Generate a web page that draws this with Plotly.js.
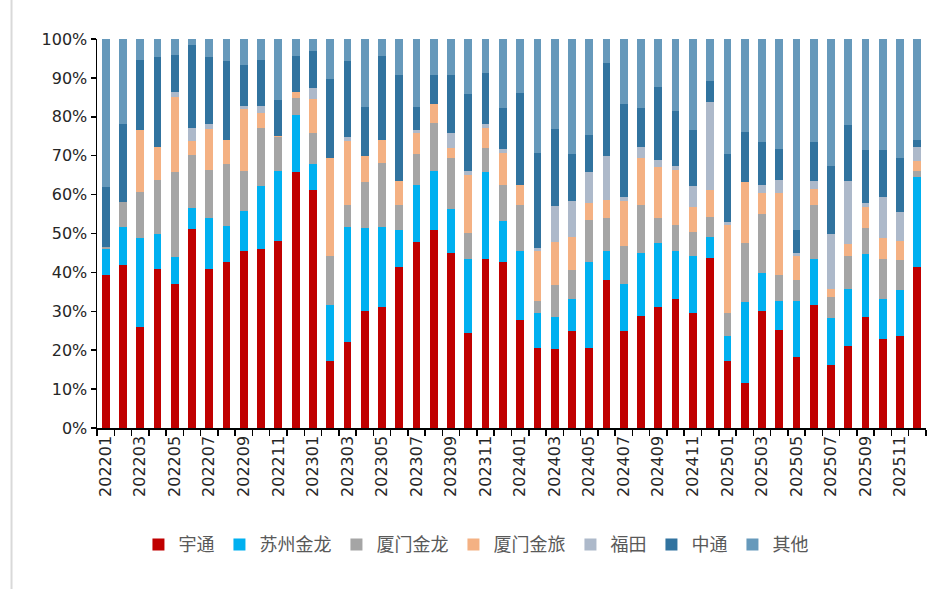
<!DOCTYPE html>
<html>
<head>
<meta charset="utf-8">
<script src="https://cdn.plot.ly/plotly-3.0.1.min.js"></script>
<style>html,body{margin:0;padding:0;background:#fff;}#chart{width:948px;height:589px;}</style>
</head>
<body>
<div id="chart"></div>
<script>
const months = ['202201','202202','202203','202204','202205','202206','202207','202208','202209','202210','202211','202212',
'202301','202302','202303','202304','202305','202306','202307','202308','202309','202310','202311','202312',
'202401','202402','202403','202404','202405','202406','202407','202408','202409','202410','202411','202412',
'202501','202502','202503','202504','202505','202506','202507','202508','202509','202510','202511','202512'];
const tickLabels = ['202201','','202203','','202205','','202207','','202209','','202211','',
'202301','','202303','','202305','','202307','','202309','','202311','',
'202401','','202403','','202405','','202407','','202409','','202411','',
'202501','','202503','','202505','','202507','','202509','','202511',''];

const yutong = [39.3,41.9,25.9,40.9,37.1,51.1,40.9,42.8,45.4,46.0,48.2,65.7,61.2,17.3,22.1,30.1,31.1,41.3,47.9,50.8,45.0,24.4,43.5,42.8,27.8,20.5,20.2,25.0,20.5,38.0,25.0,28.9,31.1,33.2,29.5,43.8,17.3,11.6,30.1,25.3,18.2,31.6,16.1,21.1,28.5,22.8,23.7,41.5];
const suzhouJinlong = [6.8,9.8,23.0,8.9,6.9,5.4,13.0,9.3,10.4,16.2,17.8,14.7,6.7,14.3,29.6,21.4,20.6,9.5,14.6,15.2,11.2,19.1,22.3,10.5,17.6,9.0,8.3,8.2,22.3,7.4,12.1,16.1,16.5,12.2,14.8,5.3,6.4,20.7,9.8,7.3,14.4,11.9,12.1,14.7,16.2,10.4,11.8,22.9];
const xiamenJinlong = [0.5,6.3,11.7,14.0,21.7,13.7,12.5,15.8,10.2,15.0,8.7,4.4,8.0,12.7,5.5,11.7,16.5,6.6,8.0,12.4,13.3,6.7,6.3,9.2,12.0,3.1,8.2,7.4,10.8,8.5,9.8,12.4,6.3,6.9,6.1,5.1,5.8,15.3,15.0,6.7,5.4,13.9,5.4,8.3,6.7,10.3,7.6,1.6];
const xiamenJinlv = [0,0,16.1,8.5,19.4,3.5,10.5,6.1,15.9,3.8,0.4,1.6,8.6,25.2,16.5,6.6,5.9,6.0,5.4,4.8,2.6,14.9,5.1,8.3,5.1,13.0,11.2,8.5,4.2,4.8,11.4,12.1,13.1,14.1,6.4,7.1,22.6,15.6,5.5,21.1,6.3,4.1,2.2,3.2,5.4,5.4,5.1,2.6];
const futian = [0,0,0,0,1.3,3.4,1.2,0.2,1.0,1.9,0,0,2.8,0,1.2,0,0,0,0.6,0,3.8,0.9,0.9,0.9,0,0.6,9.2,9.2,7.9,11.1,1.0,2.8,1.9,0.9,5.4,22.5,0.8,0,2.1,3.4,0.7,1.9,14.0,16.1,1.0,10.4,7.3,3.7];
const zhongtong = [15.3,20.1,18.0,23.1,9.6,21.4,17.4,20.2,10.3,11.8,9.1,9.2,9.6,20.1,19.4,12.8,21.5,27.4,6.1,7.6,14.9,19.8,13.1,10.6,23.6,24.6,19.8,12.2,9.6,24.0,23.9,10.0,18.8,14.3,14.3,5.5,17.6,13.0,10.9,7.9,5.8,10.0,17.5,14.4,13.7,12.2,13.8,1.7];
const others = [38.1,21.9,5.3,4.6,4.0,1.5,4.5,5.7,6.8,5.3,15.8,4.4,3.1,10.4,5.7,17.4,4.4,9.2,17.4,9.2,9.2,14.2,8.8,17.7,13.9,29.2,23.1,29.5,24.7,6.2,16.8,17.7,12.3,18.4,23.5,10.7,29.5,23.8,26.6,28.3,49.2,26.6,32.7,22.2,28.5,28.5,30.7,26.0];

const seriesNames = ['宇通','苏州金龙','厦门金龙','厦门金旅','福田','中通','其他'];
const seriesValues = [yutong, suzhouJinlong, xiamenJinlong, xiamenJinlv, futian, zhongtong, others];
const seriesColors = ['#C00000','#00B0F0','#A5A5A5','#F4B183','#ADB9CA','#31739F','#6699BB'];

const traces = seriesNames.map((name, i) => ({
  type: 'bar',
  name: name,
  x: months,
  y: seriesValues[i],
  marker: {color: seriesColors[i], line: {width: 0}},
  hoverinfo: 'x+y+name'
}));

const layout = {
  width: 948, height: 589,
  margin: {l: 97, r: 22, t: 39, b: 161},
  paper_bgcolor: '#ffffff',
  plot_bgcolor: '#ffffff',
  barmode: 'stack',
  barnorm: 'percent',
  bargap: 0.55,
  showlegend: true,
  legend: {
    orientation: 'h',
    x: 0.05, xanchor: 'left',
    y: -0.30, yanchor: 'middle',
    traceorder: 'normal',
    font: {family: 'Noto Sans CJK SC', size: 18, color: '#595959'},
    itemwidth: 30
  },
  xaxis: {
    type: 'category',
    tickvals: months,
    ticktext: tickLabels,
    tickangle: -90,
    tickson: 'boundaries',
    ticks: 'outside',
    ticklen: 6,
    tickwidth: 1.5,
    tickcolor: '#000',
    showline: true,
    linecolor: '#000',
    linewidth: 1.5,
    showgrid: false,
    zeroline: false,
    tickfont: {family: 'DejaVu Sans', size: 16, color: '#262626'}
  },
  yaxis: {
    range: [0, 100],
    dtick: 10,
    ticksuffix: '%',
    ticks: 'outside',
    ticklen: 5,
    tickwidth: 1.5,
    tickcolor: '#000',
    showline: true,
    linecolor: '#000',
    linewidth: 1.5,
    showgrid: false,
    zeroline: false,
    tickfont: {family: 'DejaVu Sans', size: 16, color: '#262626'}
  },
  shapes: [{
    type: 'line', xref: 'paper', yref: 'paper',
    x0: -0.1031, x1: -0.1031, y0: -0.42, y1: 1.11,
    line: {color: '#D9D9D9', width: 2}
  }]
};

Plotly.newPlot('chart', traces, layout, {displayModeBar: false, staticPlot: true});
</script>
</body>
</html>
